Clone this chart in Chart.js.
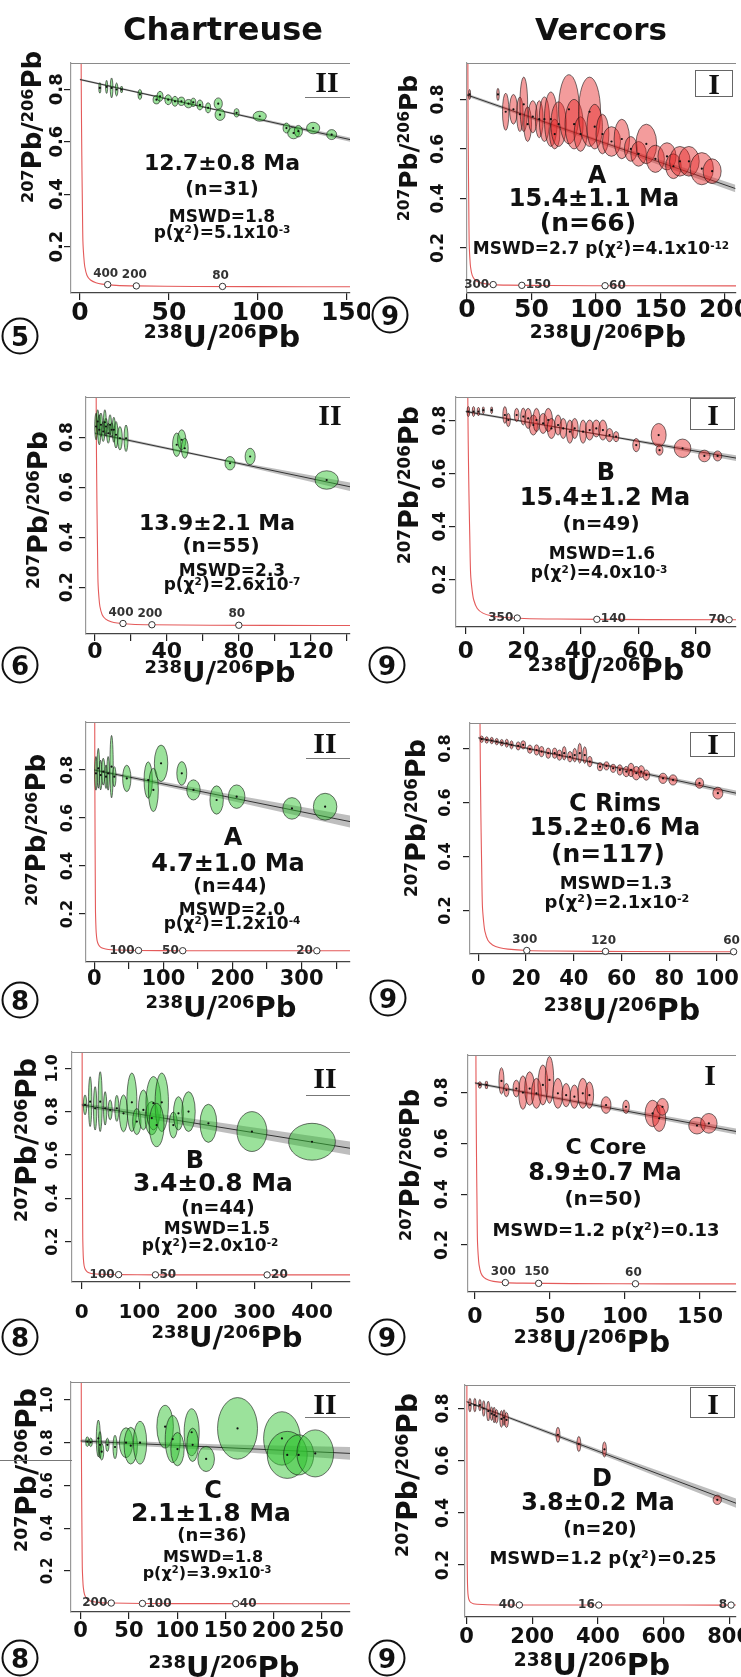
<!DOCTYPE html>
<html lang="en">
<head>
  <meta charset="UTF-8">
  <title>Tera-Wasserburg plots - Chartreuse / Vercors</title>
  <script src="https://cdn.jsdelivr.net/npm/chart.js"></script>
  <style>
    * { box-sizing: border-box; margin: 0; padding: 0; }
    body { background: #fff; }
    #page {
      position: relative; width: 741px; height: 1677px; overflow: hidden;
      font-family: 'DejaVu Sans', sans-serif; font-weight: bold; color: #111;
    }
    canvas.panel { position: absolute; }
    .txt { position: absolute; transform: translate(-50%, -50%); white-space: nowrap; line-height: 1; }
    .ytitle { transform: translate(-50%, -50%) rotate(-90deg); }
    sup { font-size: 0.62em; vertical-align: baseline; position: relative; top: -0.5em; }
    .circ {
      position: absolute; width: 37px; height: 37px; border: 2px solid #111; border-radius: 50%;
      transform: translate(-50%, -50%); display: flex; align-items: center; justify-content: center;
      font-size: 26px; line-height: 1;
    }
    .roman { font-family: 'Liberation Serif', serif; }
    .rule { position: absolute; background: #777; height: 1px; }
    .rbox { position: absolute; border: 1px solid #666; }
  </style>
</head>
<body>
<div id="page"></div>
<script>
// concordia curve (Tera-Wasserburg)
const concordiaX = [0.55, 0.7, 0.85, 1.0, 1.16, 1.4, 1.69, 2.2, 2.75, 4.0, 5.96, 9.0, 12.4, 20.3, 31.7, 64, 128, 322, 645, 900];
const concordiaY = [1.3, 0.9, 0.72, 0.6, 0.49, 0.36, 0.22, 0.16, 0.123, 0.09, 0.0725, 0.062, 0.057, 0.052, 0.050, 0.048, 0.047, 0.0468, 0.0467, 0.0467];

// ---- Chartreuse 5 ----
const l1X = [11.2, 15, 17.8, 20.6, 23.4, 33.7, 43, 45, 49.6, 53.4, 57, 61, 63.7, 67.4, 72, 77.7, 78.7, 88, 101, 116, 120, 122.7, 131, 141.4];
const l1Y = [0.805, 0.809, 0.805, 0.799, 0.799, 0.78, 0.76, 0.773, 0.76, 0.754, 0.754, 0.745, 0.75, 0.74, 0.729, 0.745, 0.703, 0.71, 0.697, 0.652, 0.633, 0.64, 0.652, 0.627];
const l1SX = [0.6, 0.6, 0.75, 0.75, 0.6, 1.1, 1.9, 1.7, 1.9, 1.7, 1.9, 2.3, 1.4, 1.7, 1.4, 2.3, 2.8, 1.4, 3.7, 1.9, 3.3, 2.3, 3.7, 2.8];
const l1SY = [0.02, 0.025, 0.038, 0.025, 0.013, 0.019, 0.016, 0.019, 0.019, 0.019, 0.016, 0.016, 0.016, 0.019, 0.019, 0.022, 0.022, 0.016, 0.019, 0.019, 0.022, 0.022, 0.022, 0.019];
const l1LineX = [0, 151.7], l1LineY = [0.837, 0.608];
const l1BandX = [0, 75, 151.7], l1BandLo = [0.833, 0.721, 0.600], l1BandHi = [0.841, 0.727, 0.616];
const l1AgeX = [15.6, 31.7, 80.1], l1AgeY = [0.055, 0.050, 0.048], l1AgeLab = ['400', '200', '80'];
const l1XTicks = [0, 50, 100, 150], l1XLabels = [0, 50, 100, 150], l1YTicks = [0.2, 0.4, 0.6, 0.8];
const l1Notes = ['12.7±0.8 Ma', '(n=31)', 'MSWD=1.8', 'p(χ<sup>2</sup>)=5.1x10<sup>-3</sup>'];

// ---- Vercors 9 A ----
const r1X = [2, 24, 30, 36, 41, 44, 47, 51, 56, 60, 65, 68, 71, 79, 83, 88, 95, 99, 105, 112, 120, 127, 133, 139, 146, 155, 160, 165, 172, 182, 190];
const r1Y = [0.82, 0.82, 0.75, 0.76, 0.74, 0.78, 0.70, 0.73, 0.72, 0.72, 0.72, 0.66, 0.70, 0.76, 0.70, 0.66, 0.75, 0.69, 0.66, 0.63, 0.64, 0.60, 0.58, 0.62, 0.56, 0.57, 0.53, 0.55, 0.55, 0.52, 0.51];
const r1SX = [0.8, 1, 2.5, 3, 2.5, 3, 3, 3.5, 3, 4, 5, 4, 6, 8, 7, 5, 8.5, 6, 5, 7, 6, 5, 6, 8, 7, 7, 6, 8, 8, 9, 7];
const r1SY = [0.02, 0.025, 0.075, 0.06, 0.07, 0.11, 0.07, 0.065, 0.075, 0.09, 0.11, 0.06, 0.09, 0.14, 0.10, 0.07, 0.14, 0.09, 0.08, 0.06, 0.08, 0.05, 0.05, 0.08, 0.055, 0.055, 0.05, 0.06, 0.06, 0.065, 0.05];
const r1LineX = [0, 208], r1LineY = [0.818, 0.44];
const r1BandX = [0, 104, 208], r1BandLo = [0.812, 0.62, 0.425], r1BandHi = [0.824, 0.635, 0.455];
const r1AgeX = [20.3, 42.5, 107], r1AgeY = [0.052, 0.049, 0.0474], r1AgeLab = ['300', '150', '60'];
const r1XTicks = [0, 50, 100, 150, 200], r1XLabels = [0, 50, 100, 150, 200], r1YTicks = [0.2, 0.4, 0.6, 0.8];
const r1Notes = ['A', '15.4±1.1 Ma', '(n=66)', 'MSWD=2.7 p(χ<sup>2</sup>)=4.1x10<sup>-12</sup>'];

// ---- Chartreuse 6 ----
const l2X = [0.6, 1.5, 2.4, 3.3, 4.6, 5.5, 6.1, 7.4, 8.4, 9.3, 10.5, 11.7, 13.9, 17.3, 45.5, 48.3, 50, 75.2, 86.4, 129];
const l2Y = [0.843, 0.863, 0.83, 0.85, 0.823, 0.86, 0.843, 0.816, 0.85, 0.83, 0.83, 0.81, 0.796, 0.796, 0.77, 0.79, 0.756, 0.696, 0.723, 0.629];
const l2SX = [0.75, 0.75, 0.9, 0.9, 0.9, 0.8, 0.9, 0.9, 0.8, 0.9, 0.9, 1.1, 1.3, 1.1, 2.3, 2.3, 1.9, 2.8, 2.8, 6.5];
const l2SY = [0.053, 0.047, 0.06, 0.047, 0.04, 0.05, 0.033, 0.04, 0.04, 0.027, 0.05, 0.053, 0.047, 0.053, 0.047, 0.04, 0.04, 0.027, 0.033, 0.037];
const l2LineX = [0, 142], l2LineY = [0.816, 0.602];
const l2BandX = [0, 71, 142], l2BandLo = [0.81, 0.705, 0.585], l2BandHi = [0.822, 0.713, 0.619];
const l2AgeX = [15.6, 31.7, 80.1], l2AgeY = [0.055, 0.050, 0.048], l2AgeLab = ['400', '200', '80'];
const l2XTicks = [0, 20, 40, 60, 80, 100, 120, 140], l2XLabels = [0, 40, 80, 120], l2YTicks = [0.2, 0.4, 0.6, 0.8];
const l2Notes = ['13.9±2.1 Ma', '(n=55)', 'MSWD=2.3', 'p(χ<sup>2</sup>)=2.6x10<sup>-7</sup>'];

// ---- Vercors 9 B ----
const r2X = [0.9, 2.7, 4.4, 6.1, 9, 13.6, 14.8, 17.7, 20, 21.7, 23.5, 24.6, 26.9, 28.7, 29.8, 32.1, 33.9, 36.2, 37.9, 40.8, 43.1, 45.4, 47.7, 50, 52.3, 59.3, 67.1, 67.4, 75.4, 83, 87.6];
const r2Y = [0.835, 0.835, 0.835, 0.84, 0.84, 0.822, 0.803, 0.822, 0.816, 0.809, 0.784, 0.803, 0.79, 0.803, 0.771, 0.784, 0.771, 0.759, 0.771, 0.759, 0.765, 0.771, 0.765, 0.746, 0.74, 0.708, 0.746, 0.689, 0.696, 0.667, 0.667];
const r2SX = [0.46, 0.46, 0.46, 0.35, 0.35, 0.7, 0.7, 0.8, 0.9, 1.2, 1.45, 1.2, 1.45, 1.45, 1.45, 1.2, 1.2, 1.2, 1.2, 1.2, 1.45, 1.45, 1.45, 1.2, 0.9, 1.2, 2.6, 1.2, 2.9, 2.0, 1.45];
const r2SY = [0.019, 0.019, 0.016, 0.013, 0.013, 0.032, 0.025, 0.025, 0.032, 0.038, 0.038, 0.044, 0.038, 0.044, 0.038, 0.038, 0.038, 0.044, 0.038, 0.044, 0.038, 0.032, 0.038, 0.025, 0.019, 0.025, 0.044, 0.019, 0.035, 0.022, 0.019];
const r2LineX = [0, 94], r2LineY = [0.835, 0.659];
const r2BandX = [0, 47, 94], r2BandLo = [0.83, 0.744, 0.648], r2BandHi = [0.84, 0.75, 0.67];
const r2AgeX = [17.9, 45.6, 91.6], r2AgeY = [0.054, 0.049, 0.0476], r2AgeLab = ['350', '140', '70'];
const r2XTicks = [0, 20, 40, 60, 80], r2XLabels = [0, 20, 40, 60, 80], r2YTicks = [0.2, 0.4, 0.6, 0.8];
const r2Notes = ['B', '15.4±1.2 Ma', '(n=49)', 'MSWD=1.6', 'p(χ<sup>2</sup>)=4.0x10<sup>-3</sup>'];

// ---- Chartreuse 8 A ----
const l3X = [2.4, 5.8, 9.2, 13, 17, 20, 25, 29, 47, 78, 85.5, 96.6, 126.6, 143.5, 177, 206, 286, 334];
const l3Y = [0.786, 0.807, 0.779, 0.793, 0.772, 0.786, 0.814, 0.772, 0.765, 0.758, 0.717, 0.828, 0.786, 0.717, 0.675, 0.689, 0.64, 0.647];
const l3SX = [1.9, 1.9, 1.9, 2.4, 1.9, 1.9, 2.4, 2.4, 6, 6, 7.2, 9.7, 7.2, 9.7, 9.7, 12, 13.3, 17];
const l3SY = [0.07, 0.083, 0.062, 0.056, 0.049, 0.07, 0.13, 0.042, 0.055, 0.076, 0.09, 0.076, 0.049, 0.042, 0.059, 0.049, 0.045, 0.056];
const l3LineX = [0, 370], l3LineY = [0.80, 0.585];
const l3BandX = [0, 185, 370], l3BandLo = [0.795, 0.68, 0.56], l3BandHi = [0.805, 0.705, 0.61];
const l3AgeX = [64, 128, 322], l3AgeY = [0.048, 0.047, 0.0468], l3AgeLab = ['100', '50', '20'];
const l3XTicks = [0, 50, 100, 150, 200, 250, 300, 350], l3XLabels = [0, 100, 200, 300], l3YTicks = [0.2, 0.4, 0.6, 0.8];
const l3Notes = ['A', '4.7±1.0 Ma', '(n=44)', 'MSWD=2.0', 'p(χ<sup>2</sup>)=1.2x10<sup>-4</sup>'];

// ---- Vercors 9 C Rims ----
const r3X = [1.4, 3.5, 5.6, 7.7, 9.8, 11.9, 13.9, 16.7, 18.8, 21.6, 24.4, 26.5, 29.3, 32, 34, 36, 38.4, 40.4, 42.5, 44.6, 46.7, 51, 53.7, 56.5, 59.3, 62, 64, 66.2, 68.3, 70.4, 77.4, 81.6, 92.7, 100.4];
const r3Y = [0.835, 0.832, 0.83, 0.826, 0.822, 0.82, 0.814, 0.81, 0.814, 0.798, 0.795, 0.789, 0.783, 0.783, 0.776, 0.783, 0.77, 0.776, 0.783, 0.776, 0.752, 0.733, 0.736, 0.727, 0.721, 0.715, 0.721, 0.709, 0.715, 0.702, 0.69, 0.684, 0.672, 0.635];
const r3SX = [0.7, 0.7, 0.7, 0.7, 0.7, 0.7, 0.7, 0.84, 0.98, 0.98, 0.98, 0.98, 0.98, 0.98, 0.98, 0.84, 0.98, 0.84, 0.84, 0.84, 0.98, 1.1, 1.1, 1.1, 1.1, 1.4, 1.4, 1.75, 1.4, 1.4, 1.75, 1.75, 1.75, 2.1];
const r3SY = [0.012, 0.012, 0.012, 0.012, 0.012, 0.015, 0.015, 0.015, 0.015, 0.015, 0.019, 0.019, 0.019, 0.019, 0.019, 0.025, 0.019, 0.025, 0.037, 0.031, 0.019, 0.015, 0.015, 0.015, 0.019, 0.019, 0.025, 0.025, 0.022, 0.019, 0.019, 0.019, 0.019, 0.022];
const r3LineX = [0, 108], r3LineY = [0.84, 0.635];
const r3BandX = [0, 54, 108], r3BandLo = [0.836, 0.733, 0.625], r3BandHi = [0.844, 0.742, 0.645];
const r3AgeX = [20.3, 53.3, 107], r3AgeY = [0.052, 0.0485, 0.0474], r3AgeLab = ['300', '120', '60'];
const r3XTicks = [0, 20, 40, 60, 80, 100], r3XLabels = [0, 20, 40, 60, 80, 100], r3YTicks = [0.2, 0.4, 0.6, 0.8];
const r3Notes = ['C Rims', '15.2±0.6 Ma', '(n=117)', 'MSWD=1.3', 'p(χ<sup>2</sup>)=2.1x10<sup>-2</sup>'];

// ---- Chartreuse 8 B ----
const l4X = [5.7, 14.5, 23.2, 32, 40.6, 49.3, 60.9, 72.5, 87, 95.6, 107, 121.6, 124.5, 139, 130, 159, 168, 185.5, 220, 295.6, 400];
const l4Y = [0.831, 0.846, 0.815, 0.846, 0.815, 0.808, 0.815, 0.792, 0.843, 0.754, 0.808, 0.77, 0.839, 0.843, 0.738, 0.738, 0.792, 0.8, 0.746, 0.708, 0.661];
const l4SX = [2.9, 2.9, 2.9, 3.5, 2.9, 3.5, 3.5, 7.2, 8.7, 7.2, 8.7, 11.6, 13, 11.6, 13, 7.2, 8.7, 11.6, 14.5, 26, 40.6];
const l4SY = [0.046, 0.115, 0.1, 0.138, 0.077, 0.046, 0.06, 0.085, 0.135, 0.06, 0.092, 0.077, 0.123, 0.135, 0.1, 0.06, 0.077, 0.092, 0.088, 0.092, 0.085];
const l4LineX = [0, 466], l4LineY = [0.831, 0.631];
const l4BandX = [0, 233, 466], l4BandLo = [0.822, 0.71, 0.60], l4BandHi = [0.84, 0.752, 0.662];
const l4AgeX = [64, 128, 322], l4AgeY = [0.048, 0.047, 0.0468], l4AgeLab = ['100', '50', '20'];
const l4XTicks = [0, 100, 200, 300, 400], l4XLabels = [0, 100, 200, 300, 400], l4YTicks = [0.2, 0.4, 0.6, 0.8, 1.0];
const l4Notes = ['B', '3.4±0.8 Ma', '(n=44)', 'MSWD=1.5', 'p(χ<sup>2</sup>)=2.0x10<sup>-2</sup>'];

// ---- Vercors 9 C Core ----
const r4X = [3.3, 7.7, 17.7, 21, 27.6, 32, 36.5, 41, 45.3, 49.7, 55.3, 60.8, 66.3, 71.9, 76.3, 87.4, 100.7, 118.4, 122.8, 125, 148, 155.9];
const r4Y = [0.83, 0.83, 0.846, 0.81, 0.816, 0.80, 0.816, 0.797, 0.83, 0.85, 0.797, 0.79, 0.784, 0.797, 0.79, 0.751, 0.744, 0.718, 0.699, 0.744, 0.67, 0.679];
const r4SX = [1.1, 0.9, 1.7, 1.7, 2.2, 2.8, 3.3, 3.3, 3.3, 2.8, 3.3, 2.8, 2.8, 3.3, 2.8, 3.3, 2.2, 5, 4.4, 3.9, 5.5, 5.5];
const r4SY = [0.013, 0.016, 0.052, 0.026, 0.033, 0.066, 0.066, 0.059, 0.079, 0.092, 0.059, 0.046, 0.046, 0.059, 0.052, 0.033, 0.026, 0.052, 0.052, 0.033, 0.033, 0.039];
const r4LineX = [0, 174], r4LineY = [0.838, 0.647];
const r4BandX = [0, 87, 174], r4BandLo = [0.833, 0.735, 0.635], r4BandHi = [0.843, 0.75, 0.659];
const r4AgeX = [20.3, 42.5, 107], r4AgeY = [0.052, 0.049, 0.0474], r4AgeLab = ['300', '150', '60'];
const r4XTicks = [0, 50, 100, 150], r4XLabels = [0, 50, 100, 150], r4YTicks = [0.2, 0.4, 0.6, 0.8];
const r4Notes = ['C Core', '8.9±0.7 Ma', '(n=50)', 'MSWD=1.2 p(χ<sup>2</sup>)=0.13'];

// ---- Chartreuse 8 C ----
const l5X = [6.9, 10.4, 18.3, 20, 21.8, 27.7, 35.6, 47, 51.9, 61.5, 87.5, 95.4, 100.3, 115, 116, 130, 162.5, 208.5, 214, 225.8, 243];
const l5Y = [0.805, 0.802, 0.82, 0.79, 0.758, 0.79, 0.78, 0.80, 0.786, 0.80, 0.875, 0.817, 0.77, 0.849, 0.79, 0.724, 0.867, 0.82, 0.743, 0.743, 0.75];
const l5SX = [1.7, 1.7, 2.1, 1.7, 2.1, 1.7, 2.1, 6.9, 6.9, 6.9, 8.6, 7.8, 6.9, 7.8, 6, 8.6, 20.7, 19, 20.7, 15.6, 19];
const l5SY = [0.023, 0.02, 0.086, 0.062, 0.039, 0.031, 0.055, 0.07, 0.086, 0.1, 0.1, 0.11, 0.078, 0.11, 0.078, 0.059, 0.144, 0.125, 0.11, 0.094, 0.11];
const l5LineX = [0, 279], l5LineY = [0.808, 0.75];
const l5BandX = [0, 139.5, 279], l5BandLo = [0.80, 0.765, 0.72], l5BandHi = [0.816, 0.793, 0.78];
const l5AgeX = [31.7, 64, 160.7], l5AgeY = [0.050, 0.048, 0.047], l5AgeLab = ['200', '100', '40'];
const l5XTicks = [0, 50, 100, 150, 200, 250], l5XLabels = [0, 50, 100, 150, 200, 250], l5YTicks = [0.2, 0.4, 0.6, 0.8, 1.0];
const l5Notes = ['C', '2.1±1.8 Ma', '(n=36)', 'MSWD=1.8', 'p(χ<sup>2</sup>)=3.9x10<sup>-3</sup>'];

// ---- Vercors 9 D ----
const r5X = [10, 25, 40.4, 52, 65.9, 76, 84, 91, 106, 114, 121.5, 278.3, 342, 420, 764];
const r5Y = [0.813, 0.813, 0.813, 0.80, 0.79, 0.78, 0.775, 0.77, 0.76, 0.765, 0.756, 0.699, 0.664, 0.643, 0.45];
const r5SX = [4, 4, 4, 4, 5, 4, 4, 5, 5, 4, 6, 6, 6, 6, 12.7];
const r5SY = [0.026, 0.026, 0.022, 0.03, 0.038, 0.026, 0.03, 0.026, 0.032, 0.03, 0.029, 0.029, 0.029, 0.029, 0.018];
const r5LineX = [0, 821], r5LineY = [0.826, 0.437];
const r5BandX = [0, 410, 821], r5BandLo = [0.822, 0.624, 0.42], r5BandHi = [0.83, 0.64, 0.455];
const r5AgeX = [160.7, 402.8, 806], r5AgeY = [0.047, 0.0467, 0.0467], r5AgeLab = ['40', '16', '8'];
const r5XTicks = [0, 200, 400, 600, 800], r5XLabels = [0, 200, 400, 600, 800], r5YTicks = [0.2, 0.4, 0.6, 0.8];
const r5Notes = ['D', '3.8±0.2 Ma', '(n=20)', 'MSWD=1.2 p(χ<sup>2</sup>)=0.25'];

const GREEN = 'rgba(45, 195, 45, 0.48)';
const RED = 'rgba(228, 40, 40, 0.46)';

// layout of each panel on the page: canvas box, plot box, ranges, text spots
const panels = [
  { box: [0, 40, 370, 300], plot: [71, 63, 350, 293], xr: [-5, 151.7], yr: [0.023, 0.90], fill: GREEN,
    ex: l1X, ey: l1Y, esx: l1SX, esy: l1SY, lx: l1LineX, ly: l1LineY, bx: l1BandX, blo: l1BandLo, bhi: l1BandHi,
    ax: l1AgeX, ay: l1AgeY, al: l1AgeLab, apos: ['a', 'a', 'a'], xt: l1XTicks, xl: l1XLabels, yt: l1YTicks,
    ylabX: 57, xlabY: 313, xFont: 25, yFont: 18, yT: [32, 127, 26], xT: [222, 337, 30], circ: ['5', 20, 336],
    notes: l1Notes, np: [[222, 163, 22], [222, 188, 19], [222, 216, 17], [222, 232, 17]],
    roman: ['II', 327, 82], rule: [305, 97, 45] },
  { box: [370, 40, 371, 300], plot: [467, 63, 738, 293], xr: [0, 208.5], yr: [0.018, 0.947], fill: RED,
    ex: r1X, ey: r1Y, esx: r1SX, esy: r1SY, lx: r1LineX, ly: r1LineY, bx: r1BandX, blo: r1BandLo, bhi: r1BandHi,
    ax: r1AgeX, ay: r1AgeY, al: r1AgeLab, apos: ['l', 'r', 'r'], xt: r1XTicks, xl: r1XLabels, yt: r1YTicks,
    ylabX: 439, xlabY: 310, xFont: 25, yFont: 17, yT: [408, 148, 25], xT: [608, 337, 30], circ: ['9', 390, 315],
    notes: r1Notes, np: [[597, 175, 24], [594, 198, 24], [588, 222, 25], [601, 248, 17]],
    roman: ['I', 714, 84], rbox: [695, 70, 38, 27] },
  { box: [0, 375, 370, 295], plot: [86, 397, 350, 634], xr: [-5, 142], yr: [0.013, 0.961], fill: GREEN,
    ex: l2X, ey: l2Y, esx: l2SX, esy: l2SY, lx: l2LineX, ly: l2LineY, bx: l2BandX, blo: l2BandLo, bhi: l2BandHi,
    ax: l2AgeX, ay: l2AgeY, al: l2AgeLab, apos: ['a', 'a', 'a'], xt: l2XTicks, xl: l2XLabels, yt: l2YTicks,
    ylabX: 68, xlabY: 652, xFont: 22, yFont: 17, yT: [37, 510, 27], xT: [220, 672, 29], circ: ['6', 20, 665],
    notes: l2Notes, np: [[217, 523, 22], [221, 545, 20], [232, 570, 17], [232, 584, 17]],
    roman: ['II', 330, 415] },
  { box: [370, 375, 371, 295], plot: [456, 397, 737, 627], xr: [-3.4, 94], yr: [0.02, 0.89], fill: RED,
    ex: r2X, ey: r2Y, esx: r2SX, esy: r2SY, lx: r2LineX, ly: r2LineY, bx: r2BandX, blo: r2BandLo, bhi: r2BandHi,
    ax: r2AgeX, ay: r2AgeY, al: r2AgeLab, apos: ['l', 'r', 'l'], xt: r2XTicks, xl: r2XLabels, yt: r2YTicks,
    ylabX: 441, xlabY: 652, xFont: 23, yFont: 17, yT: [408, 485, 27], xT: [606, 670, 30], circ: ['9', 387, 665],
    notes: r2Notes, np: [[606, 472, 24], [605, 497, 24], [601, 523, 20], [602, 553, 17], [599, 572, 17]],
    roman: ['I', 713, 415], rbox: [690, 398, 45, 32] },
  { box: [0, 700, 370, 300], plot: [86, 722, 350, 962], xr: [-12, 370], yr: [0.0, 1.0], fill: GREEN,
    ex: l3X, ey: l3Y, esx: l3SX, esy: l3SY, lx: l3LineX, ly: l3LineY, bx: l3BandX, blo: l3BandLo, bhi: l3BandHi,
    ax: l3AgeX, ay: l3AgeY, al: l3AgeLab, apos: ['l', 'l', 'l'], xt: l3XTicks, xl: l3XLabels, yt: l3YTicks,
    ylabX: 68, xlabY: 980, xFont: 21, yFont: 16, yT: [36, 830, 26], xT: [221, 1007, 29], circ: ['8', 20, 1000],
    notes: l3Notes, np: [[233, 837, 24], [228, 863, 24], [230, 885, 19], [232, 909, 17], [232, 923, 17]],
    roman: ['II', 325, 743], rule: [306, 758, 44] },
  { box: [370, 700, 371, 300], plot: [470, 723, 737, 954], xr: [-3.5, 108], yr: [0.039, 0.895], fill: RED,
    ex: r3X, ey: r3Y, esx: r3SX, esy: r3SY, lx: r3LineX, ly: r3LineY, bx: r3BandX, blo: r3BandLo, bhi: r3BandHi,
    ax: r3AgeX, ay: r3AgeY, al: r3AgeLab, apos: ['a', 'a', 'a'], xt: r3XTicks, xl: r3XLabels, yt: r3YTicks,
    ylabX: 446, xlabY: 980, xFont: 21, yFont: 16, yT: [415, 818, 27], xT: [622, 1010, 30], circ: ['9', 388, 998],
    notes: r3Notes, np: [[615, 803, 24], [615, 827, 24], [608, 853, 25], [616, 883, 18], [617, 902, 18]],
    roman: ['I', 713, 744], rbox: [690, 732, 45, 25] },
  { box: [0, 1035, 370, 300], plot: [72, 1052, 350, 1282], xr: [-17, 466], yr: [0.014, 1.075], fill: GREEN,
    ex: l4X, ey: l4Y, esx: l4SX, esy: l4SY, lx: l4LineX, ly: l4LineY, bx: l4BandX, blo: l4BandLo, bhi: l4BandHi,
    ax: l4AgeX, ay: l4AgeY, al: l4AgeLab, apos: ['l', 'r', 'r'], xt: l4XTicks, xl: l4XLabels, yt: l4YTicks,
    ylabX: 53, xlabY: 1313, xFont: 20, yFont: 16, yT: [27, 1140, 28], xT: [227, 1337, 29], circ: ['8', 20, 1337],
    notes: l4Notes, np: [[195, 1160, 24], [213, 1182, 25], [218, 1207, 19], [217, 1228, 17], [210, 1245, 17]],
    roman: ['II', 325, 1078], rule: [306, 1095, 44] },
  { box: [370, 1035, 371, 300], plot: [468, 1055, 737, 1292], xr: [-4.6, 174], yr: [0.015, 0.948], fill: RED,
    ex: r4X, ey: r4Y, esx: r4SX, esy: r4SY, lx: r4LineX, ly: r4LineY, bx: r4BandX, blo: r4BandLo, bhi: r4BandHi,
    ax: r4AgeX, ay: r4AgeY, al: r4AgeLab, apos: ['a', 'a', 'a'], xt: r4XTicks, xl: r4XLabels, yt: r4YTicks,
    ylabX: 443, xlabY: 1317, xFont: 22, yFont: 17, yT: [410, 1165, 26], xT: [592, 1342, 30], circ: ['9', 387, 1337],
    notes: r4Notes, np: [[606, 1147, 22], [605, 1172, 24], [603, 1198, 20], [606, 1230, 18]],
    roman: ['I', 710, 1075] },
  { box: [0, 1365, 370, 285], plot: [71, 1382, 350, 1612], xr: [-10, 279], yr: [0.008, 1.084], fill: GREEN,
    ex: l5X, ey: l5Y, esx: l5SX, esy: l5SY, lx: l5LineX, ly: l5LineY, bx: l5BandX, blo: l5BandLo, bhi: l5BandHi,
    ax: l5AgeX, ay: l5AgeY, al: l5AgeLab, apos: ['l', 'r', 'r'], xt: l5XTicks, xl: l5XLabels, yt: l5YTicks,
    ylabX: 48, xlabY: 1632, xFont: 21, yFont: 15, yT: [27, 1470, 28], xT: [224, 1667, 29], circ: ['8', 20, 1658],
    notes: l5Notes, np: [[213, 1490, 24], [211, 1512, 25], [212, 1535, 18], [213, 1557, 16], [207, 1573, 16]],
    roman: ['II', 325, 1404], rule: [305, 1417, 45] },
  { box: [370, 1365, 371, 285], plot: [465, 1385, 737, 1617], xr: [-5, 821], yr: [0.001, 0.89], fill: RED,
    ex: r5X, ey: r5Y, esx: r5SX, esy: r5SY, lx: r5LineX, ly: r5LineY, bx: r5BandX, blo: r5BandLo, bhi: r5BandHi,
    ax: r5AgeX, ay: r5AgeY, al: r5AgeLab, apos: ['l', 'l', 'l'], xt: r5XTicks, xl: r5XLabels, yt: r5YTicks,
    ylabX: 444, xlabY: 1638, xFont: 21, yFont: 17, yT: [408, 1475, 28], xT: [592, 1665, 30], circ: ['9', 387, 1658],
    notes: r5Notes, np: [[602, 1478, 24], [598, 1502, 24], [600, 1528, 19], [603, 1558, 18]],
    roman: ['I', 713, 1404], rbox: [690, 1387, 45, 31] }
];

const page = document.getElementById('page');
const AX = 8;   // fixed thickness given to each axis box

function pts(xs, ys) {
  return xs.map((x, i) => ({ x: x, y: ys[i] }));
}

// draws the error ellipses, the top frame line, tick labels and age labels
function isoPlugin(p) {
  return {
    id: 'iso',
    beforeDatasetDraw(chart, args) {
      if (args.index !== 0) return;
      const ctx = chart.ctx, xs = chart.scales.x, ys = chart.scales.y, a = chart.chartArea;
      ctx.save();
      ctx.beginPath();
      ctx.rect(a.left, a.top, a.right - a.left, a.bottom - a.top);
      ctx.clip();
      p.ex.forEach((xv, i) => {
        const cx = xs.getPixelForValue(xv), cy = ys.getPixelForValue(p.ey[i]);
        const rx = Math.abs(xs.getPixelForValue(xv + p.esx[i]) - cx);
        const ry = Math.abs(ys.getPixelForValue(p.ey[i] + p.esy[i]) - cy);
        ctx.beginPath();
        ctx.ellipse(cx, cy, Math.max(rx, 0.8), Math.max(ry, 0.8), 0, 0, Math.PI * 2);
        ctx.fillStyle = p.fill;
        ctx.fill();
        ctx.lineWidth = 0.7;
        ctx.strokeStyle = 'rgba(20,20,20,0.85)';
        ctx.stroke();
      });
      ctx.restore();
    },
    afterDraw(chart) {
      const ctx = chart.ctx, xs = chart.scales.x, ys = chart.scales.y, a = chart.chartArea;
      const ox = p.box[0], oy = p.box[1];
      ctx.save();
      // top frame line
      ctx.strokeStyle = '#8a8a8a';
      ctx.lineWidth = 1;
      ctx.beginPath();
      ctx.moveTo(a.left, Math.round(a.top) + 0.5);
      ctx.lineTo(a.right, Math.round(a.top) + 0.5);
      ctx.stroke();

      ctx.fillStyle = '#111';
      ctx.textAlign = 'center';
      ctx.textBaseline = 'middle';
      ctx.font = 'bold ' + p.xFont + 'px "DejaVu Sans"';
      p.xl.forEach(v => ctx.fillText(String(v), xs.getPixelForValue(v), p.xlabY - oy));

      ctx.font = 'bold ' + p.yFont + 'px "DejaVu Sans"';
      p.yt.forEach(v => {
        ctx.save();
        ctx.translate(p.ylabX - ox, ys.getPixelForValue(v));
        ctx.rotate(-Math.PI / 2);
        ctx.fillText(v.toFixed(1), 0, 0);
        ctx.restore();
      });

      // concordia age labels
      ctx.font = 'bold 12px "DejaVu Sans"';
      ctx.fillStyle = '#333';
      p.ax.forEach((xv, i) => {
        const px = xs.getPixelForValue(xv), py = ys.getPixelForValue(p.ay[i]);
        const pos = p.apos[i];
        if (pos === 'l') { ctx.textAlign = 'right'; ctx.fillText(p.al[i], px - 4, py); }
        else if (pos === 'r') { ctx.textAlign = 'left'; ctx.fillText(p.al[i], px + 4, py); }
        else { ctx.textAlign = 'center'; ctx.fillText(p.al[i], px - 2, py - 11); }
      });
      ctx.restore();
    }
  };
}

function axisOpts(range, ticks, isX, borderColor) {
  return {
    type: 'linear',
    min: range[0],
    max: range[1],
    afterBuildTicks: s => { s.ticks = ticks.map(v => ({ value: v })); },
    afterFit: s => { if (isX) s.height = AX; else s.width = AX; },
    ticks: { display: false },
    grid: { drawOnChartArea: false, drawTicks: true, tickLength: 7, color: '#222', lineWidth: 1.2 },
    border: { display: true, color: borderColor, width: 1.2 }
  };
}

function buildPanel(p) {
  const [bx, by, bw, bh] = p.box;
  const [L, T, R, B] = p.plot;
  const cv = document.createElement('canvas');
  cv.className = 'panel';
  cv.width = bw;
  cv.height = bh;
  cv.style.left = bx + 'px';
  cv.style.top = by + 'px';
  cv.style.width = bw + 'px';
  cv.style.height = bh + 'px';
  page.appendChild(cv);

  const pad = { left: L - bx - AX, top: T - by, right: bx + bw - R, bottom: by + bh - B - AX };

  new Chart(cv.getContext('2d'), {
    type: 'scatter',
    data: {
      datasets: [
        { data: pts(p.ex, p.ey), pointRadius: 1.1, pointBackgroundColor: '#111', pointBorderWidth: 0, order: 0 },
        { data: pts(p.ax, p.ay), pointRadius: 3.2, pointBackgroundColor: '#fff', pointBorderColor: '#333',
          pointBorderWidth: 1, clip: false, order: 1 },
        { type: 'line', data: pts(p.lx, p.ly), borderColor: '#333', borderWidth: 1, pointRadius: 0, fill: false, order: 2 },
        { type: 'line', data: pts(concordiaX, concordiaY), borderColor: '#e45a5a', borderWidth: 1.1,
          pointRadius: 0, fill: false, tension: 0.3, order: 3 },
        { type: 'line', data: pts(p.bx, p.bhi), borderWidth: 0, borderColor: 'rgba(0,0,0,0)', pointRadius: 0,
          fill: false, order: 4 },
        { type: 'line', data: pts(p.bx, p.blo), borderWidth: 0, borderColor: 'rgba(0,0,0,0)', pointRadius: 0,
          fill: '-1', backgroundColor: 'rgba(110,110,110,0.45)', order: 4 }
      ]
    },
    options: {
      responsive: false,
      animation: false,
      events: [],
      layout: { padding: pad },
      plugins: { legend: { display: false }, tooltip: { enabled: false } },
      scales: {
        x: axisOpts(p.xr, p.xt, true, '#444'),
        y: axisOpts(p.yr, p.yt, false, '#999')
      }
    },
    plugins: [isoPlugin(p)]
  });
}

function put(html, x, y, size, cls) {
  const d = document.createElement('div');
  d.className = 'txt' + (cls ? ' ' + cls : '');
  d.style.left = x + 'px';
  d.style.top = y + 'px';
  d.style.fontSize = size + 'px';
  d.innerHTML = html;
  page.appendChild(d);
}

panels.forEach(buildPanel);

put('Chartreuse', 223, 29, 32);
put('Vercors', 601, 29, 31);

panels.forEach(p => {
  put('<sup>207</sup>Pb/<sup>206</sup>Pb', p.yT[0], p.yT[1], p.yT[2], 'ytitle');
  put('<sup>238</sup>U/<sup>206</sup>Pb', p.xT[0], p.xT[1], p.xT[2]);
  p.notes.forEach((t, i) => put(t, p.np[i][0], p.np[i][1], p.np[i][2]));

  const c = document.createElement('div');
  c.className = 'circ';
  c.style.left = p.circ[1] + 'px';
  c.style.top = p.circ[2] + 'px';
  c.textContent = p.circ[0];
  page.appendChild(c);

  if (p.rbox) {
    const b = document.createElement('div');
    b.className = 'rbox';
    b.style.left = p.rbox[0] + 'px';
    b.style.top = p.rbox[1] + 'px';
    b.style.width = p.rbox[2] + 'px';
    b.style.height = p.rbox[3] + 'px';
    page.appendChild(b);
  }
  if (p.rule) {
    const r = document.createElement('div');
    r.className = 'rule';
    r.style.left = p.rule[0] + 'px';
    r.style.top = p.rule[1] + 'px';
    r.style.width = p.rule[2] + 'px';
    page.appendChild(r);
  }
  put(p.roman[0], p.roman[1], p.roman[2], 30, 'roman');
});

// stray frame line crossing the last left y title
const stray = document.createElement('div');
stray.className = 'rule';
stray.style.left = '0px';
stray.style.top = '1460px';
stray.style.width = '72px';
page.appendChild(stray);
</script>
</body>
</html>
